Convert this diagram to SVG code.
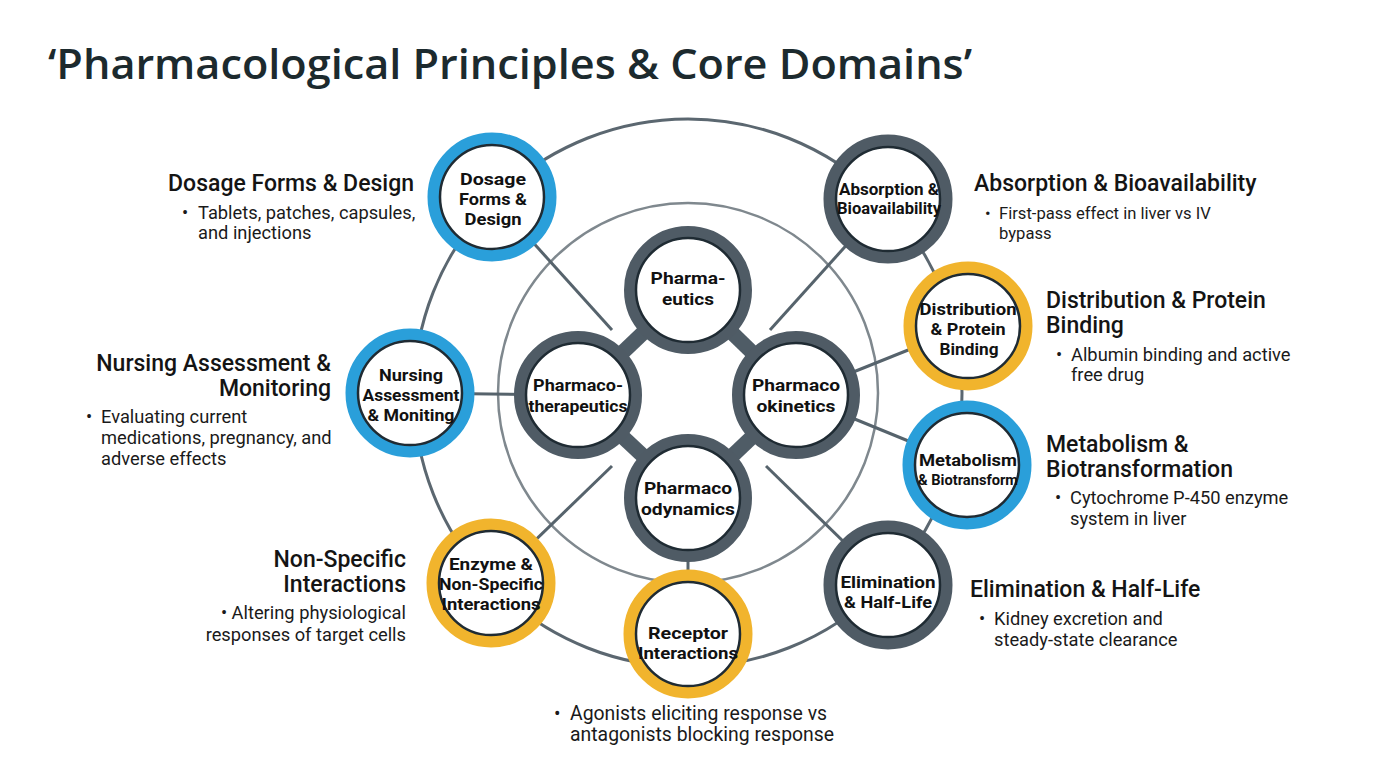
<svg xmlns="http://www.w3.org/2000/svg" width="1376" height="768" viewBox="0 0 1376 768">
<style>
.bg{fill:#ffffff}
.title{font-family:"Open Sans","Liberation Sans",sans-serif;font-weight:600;font-size:42px;fill:#1c2a2e}
.ring-outer{fill:none;stroke:#5b6770;stroke-width:3}
.ring-inner{fill:none;stroke:#7f888e;stroke-width:2.5}
.conn{stroke:#56636c;stroke-width:3;fill:none}
.thick{stroke:#4f5c66;stroke-width:15;fill:none}
.blue{fill:none;stroke:#2a9fda;stroke-width:12}
.gold{fill:none;stroke:#f1b42d;stroke-width:12}
.gray{fill:none;stroke:#4f5b65;stroke-width:12}
.core{fill:#ffffff;stroke:#1f2b33;stroke-width:2.5}
.nt{font-family:Roboto,"Liberation Sans",sans-serif;font-weight:700;font-size:17px;fill:#111;text-anchor:middle}
.nts{font-size:16px}
.nxs{font-size:14.5px}
.lh{font-family:Roboto,"Liberation Sans",sans-serif;font-weight:500;font-size:23px;fill:#141414}
.lb{font-family:Roboto,"Liberation Sans",sans-serif;font-weight:400;font-size:18.3px;fill:#1a1a1a}
.lbs{font-size:16.6px}
.lbl{font-size:19.4px}
.end{text-anchor:end}
</style>
<rect class="bg" x="0" y="0" width="1376" height="768"/>
<text class="title" x="48" y="79" textLength="924" lengthAdjust="spacingAndGlyphs">‘Pharmacological Principles &amp; Core Domains’</text>

<g id="connectors">
<circle class="ring-outer" cx="688" cy="393" r="274"/>
<circle class="ring-inner" cx="688" cy="393" r="190"/>
<line class="conn" x1="492" y1="197" x2="612" y2="330"/>
<line class="conn" x1="888" y1="199" x2="770" y2="330"/>
<line class="conn" x1="410" y1="393" x2="578" y2="395"/>
<line class="conn" x1="968" y1="326" x2="796" y2="395"/>
<line class="conn" x1="967" y1="465" x2="796" y2="395"/>
<line class="conn" x1="491" y1="583" x2="612" y2="466"/>
<line class="conn" x1="888" y1="585" x2="766" y2="466"/>
<line class="conn" x1="688" y1="498" x2="688" y2="634"/>
<line class="thick" x1="688" y1="290" x2="578" y2="395"/>
<line class="thick" x1="688" y1="290" x2="796" y2="395"/>
<line class="thick" x1="578" y1="395" x2="688" y2="498"/>
<line class="thick" x1="796" y1="395" x2="688" y2="498"/>
</g>

<g id="node-pharmaceutics">
<circle class="gray" cx="688" cy="290" r="58"/><circle class="core" cx="688" cy="290" r="52"/>
<text class="nt" x="688" y="284" textLength="75" lengthAdjust="spacingAndGlyphs">Pharma-</text><text class="nt" x="688" y="305" textLength="52" lengthAdjust="spacingAndGlyphs">eutics</text>
</g>
<g id="node-pharmacotherapeutics">
<circle class="gray" cx="578" cy="395" r="58"/><circle class="core" cx="578" cy="395" r="52"/>
<text class="nt" x="578" y="391" textLength="90" lengthAdjust="spacingAndGlyphs">Pharmaco-</text><text class="nt" x="578" y="412" textLength="99" lengthAdjust="spacingAndGlyphs">therapeutics</text>
</g>
<g id="node-pharmacokinetics">
<circle class="gray" cx="796" cy="395" r="58"/><circle class="core" cx="796" cy="395" r="52"/>
<text class="nt" x="796" y="391" textLength="88" lengthAdjust="spacingAndGlyphs">Pharmaco</text><text class="nt" x="796" y="412" textLength="79" lengthAdjust="spacingAndGlyphs">okinetics</text>
</g>
<g id="node-pharmacodynamics">
<circle class="gray" cx="688" cy="498" r="58"/><circle class="core" cx="688" cy="498" r="52"/>
<text class="nt" x="688" y="494" textLength="88" lengthAdjust="spacingAndGlyphs">Pharmaco</text><text class="nt" x="688" y="515" textLength="94" lengthAdjust="spacingAndGlyphs">odynamics</text>
</g>

<g id="node-dosage">
<circle class="blue" cx="492" cy="197" r="58.5"/><circle class="core" cx="492" cy="197" r="52"/>
<text class="nt" x="493" y="185" textLength="66" lengthAdjust="spacingAndGlyphs">Dosage</text><text class="nt" x="493" y="205" textLength="68" lengthAdjust="spacingAndGlyphs">Forms &amp;</text><text class="nt" x="493" y="225" textLength="57" lengthAdjust="spacingAndGlyphs">Design</text>
</g>
<g id="node-absorption">
<circle class="gray" cx="888" cy="199" r="58.5"/><circle class="core" cx="888" cy="199" r="52"/>
<text class="nt nts" x="889" y="195" textLength="100" lengthAdjust="spacingAndGlyphs">Absorption &amp;</text><text class="nt nts" x="889" y="214" textLength="104" lengthAdjust="spacingAndGlyphs">Bioavailability</text>
</g>
<g id="node-distribution">
<circle class="gold" cx="968" cy="326" r="58.5"/><circle class="core" cx="968" cy="326" r="52"/>
<text class="nt" x="968" y="315" textLength="97" lengthAdjust="spacingAndGlyphs">Distribution</text><text class="nt" x="968" y="335" textLength="75" lengthAdjust="spacingAndGlyphs">&amp; Protein</text><text class="nt" x="969" y="355" textLength="59" lengthAdjust="spacingAndGlyphs">Binding</text>
</g>
<g id="node-metabolism">
<circle class="blue" cx="967" cy="465" r="58.5"/><circle class="core" cx="967" cy="465" r="52"/>
<text class="nt" x="968" y="466" textLength="98" lengthAdjust="spacingAndGlyphs">Metabolism</text><text class="nt nxs" x="968" y="485" textLength="100" lengthAdjust="spacingAndGlyphs">&amp; Biotransform</text>
</g>
<g id="node-elimination">
<circle class="gray" cx="888" cy="585" r="58.5"/><circle class="core" cx="888" cy="585" r="52"/>
<text class="nt" x="888" y="588" textLength="95" lengthAdjust="spacingAndGlyphs">Elimination</text><text class="nt" x="888" y="608" textLength="88" lengthAdjust="spacingAndGlyphs">&amp; Half-Life</text>
</g>
<g id="node-receptor">
<circle class="gold" cx="688" cy="634" r="58.5"/><circle class="core" cx="688" cy="634" r="52"/>
<text class="nt" x="688" y="639" textLength="80" lengthAdjust="spacingAndGlyphs">Receptor</text><text class="nt" x="688" y="659" textLength="100" lengthAdjust="spacingAndGlyphs">Interactions</text>
</g>
<g id="node-enzyme">
<circle class="gold" cx="491" cy="583" r="58.5"/><circle class="core" cx="491" cy="583" r="52"/>
<text class="nt" x="491" y="570" textLength="84" lengthAdjust="spacingAndGlyphs">Enzyme &amp;</text><text class="nt" x="491" y="590" textLength="104" lengthAdjust="spacingAndGlyphs">Non-Specific</text><text class="nt" x="491" y="610" textLength="99" lengthAdjust="spacingAndGlyphs">Interactions</text>
</g>
<g id="node-nursing">
<circle class="blue" cx="410" cy="393" r="58.5"/><circle class="core" cx="410" cy="393" r="52"/>
<text class="nt" x="411" y="381" textLength="64" lengthAdjust="spacingAndGlyphs">Nursing</text><text class="nt" x="411" y="401" textLength="97" lengthAdjust="spacingAndGlyphs">Assessment</text><text class="nt" x="411" y="421" textLength="87" lengthAdjust="spacingAndGlyphs">&amp; Moniting</text>
</g>

<g id="label-dosage">
<text class="lh end" x="414" y="191">Dosage Forms &amp; Design</text>
<text class="lb" x="182" y="219">•</text><text class="lb" x="198" y="219">Tablets, patches, capsules,</text>
<text class="lb" x="198" y="239">and injections</text>
</g>
<g id="label-nursing">
<text class="lh end" x="331" y="371">Nursing Assessment &amp;</text>
<text class="lh end" x="331" y="396">Monitoring</text>
<text class="lb" x="86" y="423">•</text><text class="lb" x="101" y="423">Evaluating current</text>
<text class="lb" x="101" y="444">medications, pregnancy, and</text>
<text class="lb" x="101" y="465">adverse effects</text>
</g>
<g id="label-nonspecific">
<text class="lh end" x="406" y="567">Non-Specific</text>
<text class="lh end" x="406" y="592">Interactions</text>
<text class="lb end" x="406" y="619">• Altering physiological</text>
<text class="lb end" x="406" y="641">responses of target cells</text>
</g>
<g id="label-receptor">
<text class="lb lbl" x="554" y="720">•</text><text class="lb lbl" x="570" y="720">Agonists eliciting response vs</text>
<text class="lb lbl" x="570" y="741">antagonists blocking response</text>
</g>
<g id="label-absorption">
<text class="lh" x="974" y="191">Absorption &amp; Bioavailability</text>
<text class="lb lbs" x="985" y="219">•</text><text class="lb lbs" x="999" y="219">First-pass effect in liver vs IV</text>
<text class="lb lbs" x="999" y="239">bypass</text>
</g>
<g id="label-distribution">
<text class="lh" x="1046" y="308">Distribution &amp; Protein</text>
<text class="lh" x="1046" y="333">Binding</text>
<text class="lb" x="1056" y="361">•</text><text class="lb" x="1071" y="361">Albumin binding and active</text>
<text class="lb" x="1071" y="381">free drug</text>
</g>
<g id="label-metabolism">
<text class="lh" x="1046" y="452">Metabolism &amp;</text>
<text class="lh" x="1046" y="477">Biotransformation</text>
<text class="lb" x="1055" y="504">•</text><text class="lb" x="1070" y="504">Cytochrome P-450 enzyme</text>
<text class="lb" x="1070" y="525">system in liver</text>
</g>
<g id="label-elimination">
<text class="lh" x="970" y="597">Elimination &amp; Half-Life</text>
<text class="lb" x="979" y="625">•</text><text class="lb" x="994" y="625">Kidney excretion and</text>
<text class="lb" x="994" y="646">steady-state clearance</text>
</g>
</svg>
